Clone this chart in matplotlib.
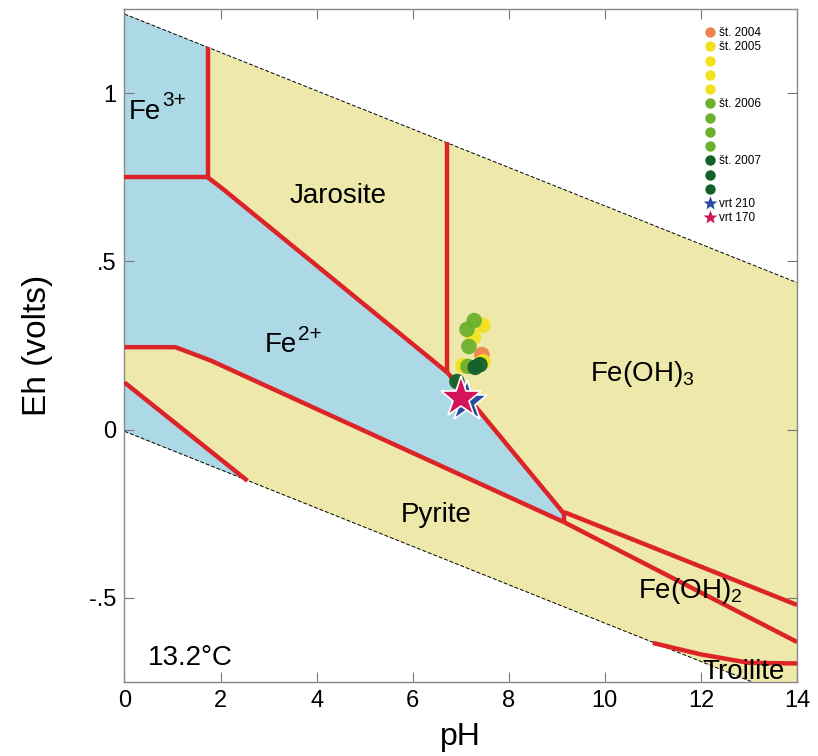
import matplotlib
matplotlib.use('Agg')
import matplotlib.pyplot as plt
from matplotlib.lines import Line2D

plt.rcParams['font.family'] = ['Liberation Sans', 'DejaVu Sans']
plt.rcParams['mathtext.fontset'] = 'custom'
plt.rcParams['mathtext.rm'] = 'Liberation Sans'
plt.rcParams['mathtext.it'] = 'Liberation Sans'

# Water stability limits (upper O2/H2O, lower H2O/H2)
ph_limits = [0, 14]
eh_upper = [1.235, 0.437]
eh_lower = [-0.005, -0.803]

# Stability field boundaries (pH, Eh)
fe3_fe2_ph = [0, 1.73]
fe3_fe2_eh = [0.75, 0.75]
fe3_jar_ph = [1.73, 1.73]
fe3_jar_eh = [1.137, 0.75]
jar_fe2_ph = [1.73, 2.05, 6.72]
jar_fe2_eh = [0.75, 0.715, 0.17]
jar_feoh3_ph = [6.72, 6.72]
jar_feoh3_eh = [0.855, 0.17]
fe2_feoh3_ph = [6.72, 9.15]
fe2_feoh3_eh = [0.17, -0.25]
tip_ph = [9.15, 9.15]
tip_eh = [-0.245, -0.275]
fe2_pyr_ph = [0, 1.06, 1.8, 9.15]
fe2_pyr_eh = [0.245, 0.245, 0.205, -0.275]
pyr_fe2_low_ph = [0, 2.56]
pyr_fe2_low_eh = [0.14, -0.152]
feoh3_feoh2_ph = [9.15, 14]
feoh3_feoh2_eh = [-0.245, -0.521]
pyr_feoh2_ph = [9.15, 14]
pyr_feoh2_eh = [-0.275, -0.631]
pyr_troi_ph = [11.0, 12.0, 13.0, 14.0]
pyr_troi_eh = [-0.634, -0.668, -0.693, -0.695]

# Sampling campaigns
years = ['št. 2004', 'št. 2005', 'št. 2006', 'št. 2007']
year_colors = ['#ee8450', '#f2e21e', '#6bb02e', '#14602a']
ph_2004 = [7.44]
eh_2004 = [0.223]
ph_2005 = [7.46, 7.26, 7.46, 7.05]
eh_2005 = [0.310, 0.274, 0.202, 0.190]
ph_2006 = [7.28, 7.13, 7.17, 7.15]
eh_2006 = [0.324, 0.298, 0.247, 0.188]
ph_2007 = [7.30, 7.40, 6.92]
eh_2007 = [0.185, 0.193, 0.143]

wells = ['vrt 210', 'vrt 170']
well_colors = ['#2b4aa0', '#d3145a']
well_ph = [7.14, 7.0]
well_eh = [0.083, 0.095]

blue = '#add8e6'
yellow = '#eee8aa'
red = '#dc2328'

fig = plt.figure(figsize=(8.18, 7.56), dpi=100)
ax = fig.add_axes([0.1522, 0.0979, 0.8221, 0.8902])

# fields
ax.fill_between(ph_limits, eh_lower, eh_upper, color=yellow, lw=0, zorder=0)
fe_poly_ph = [0, 1.73] + fe3_jar_ph + jar_fe2_ph[1:] + fe2_feoh3_ph[1:] + tip_ph[1:] + fe2_pyr_ph[::-1]
fe_poly_eh = [eh_upper[0], 1.137] + fe3_jar_eh + jar_fe2_eh[1:] + fe2_feoh3_eh[1:] + tip_eh[1:] + fe2_pyr_eh[::-1]
ax.fill(fe_poly_ph, fe_poly_eh, color=blue, lw=0, zorder=1)
ax.fill(pyr_fe2_low_ph + [0], pyr_fe2_low_eh + [eh_lower[0]], color=blue, lw=0, zorder=1)

ax.plot(ph_limits, eh_upper, 'k--', lw=0.7, dashes=(4, 2), zorder=2)
ax.plot(ph_limits, eh_lower, 'k--', lw=0.7, dashes=(4, 2), zorder=2)

for xs, ys in [(fe3_fe2_ph, fe3_fe2_eh), (fe3_jar_ph, fe3_jar_eh), (jar_fe2_ph, jar_fe2_eh),
               (jar_feoh3_ph, jar_feoh3_eh), (fe2_feoh3_ph, fe2_feoh3_eh), (tip_ph, tip_eh),
               (fe2_pyr_ph, fe2_pyr_eh), (pyr_fe2_low_ph, pyr_fe2_low_eh),
               (feoh3_feoh2_ph, feoh3_feoh2_eh), (pyr_feoh2_ph, pyr_feoh2_eh),
               (pyr_troi_ph, pyr_troi_eh)]:
    ax.plot(xs, ys, color=red, lw=3.2, solid_capstyle='butt', zorder=3)

# field labels
lab = dict(fontsize=20, zorder=4)
t = ax.text(0.08, 0.945, 'Fe', ha='left', va='center', **lab)
ax.annotate('3+', xy=(1, 0.55), xycoords=t, xytext=(1, 0), textcoords='offset points',
            va='bottom', fontsize=15, zorder=4)
t = ax.text(3.25, 0.25, 'Fe', ha='center', va='center', **lab)
ax.annotate('2+', xy=(1, 0.55), xycoords=t, xytext=(1, 0), textcoords='offset points',
            va='bottom', fontsize=15, zorder=4)
ax.text(4.45, 0.693, 'Jarosite', ha='center', va='center', **lab)
ax.text(10.78, 0.165, r'$\mathregular{Fe(OH)_3}$', ha='center', va='center', **lab)
ax.text(6.49, -0.253, 'Pyrite', ha='center', va='center', **lab)
ax.text(11.77, -0.48, r'$\mathregular{Fe(OH)_2}$', ha='center', va='center', **lab)
ax.text(12.88, -0.72, 'Troilite', ha='center', va='center', **lab)
ax.text(1.37, -0.678, '13.2°C', ha='center', va='center', **lab)

# samples
ms = 125
for ph, eh, c in [(ph_2004, eh_2004, year_colors[0]), (ph_2005, eh_2005, year_colors[1]),
                  (ph_2006, eh_2006, year_colors[2]), (ph_2007, eh_2007, year_colors[3])]:
    ax.scatter(ph, eh, s=ms, color=c, edgecolors='none', alpha=0.95, zorder=5)
for i in range(2):
    ax.plot(well_ph[i], well_eh[i], marker='*', ms=31, color=well_colors[i],
            mec='white', mew=1.2, zorder=6)

# legend with one entry per sample
handles = []
labels = []
counts = [len(ph_2004), len(ph_2005), len(ph_2006), len(ph_2007)]
for name, c, n in zip(years, year_colors, counts):
    for k in range(n):
        handles.append(Line2D([], [], ls='none', marker='o', ms=7.5, color=c, mec='none'))
        labels.append(name if k == 0 else '')
for name, c in zip(wells, well_colors):
    handles.append(Line2D([], [], ls='none', marker='*', ms=10, color=c, mec='none'))
    labels.append(name)
ax.legend(handles, labels, loc='upper left', bbox_to_anchor=(0.862, 0.964), bbox_transform=fig.transFigure,
          frameon=False, fontsize=8.5, handlelength=0.8, handletextpad=0.4, labelspacing=0.19,
          borderpad=0, borderaxespad=0)

ax.set_xlim(0, 14)
ax.set_ylim(-0.75, 1.25)
ax.set_xticks(range(0, 15, 2))
ax.set_yticks([-0.5, 0, 0.5, 1])
ax.set_yticklabels(['-.5', '0', '.5', '1'])
ax.tick_params(direction='in', length=7, width=0.8, color='#777777', labelsize=17,
               top=True, right=True, pad=6)
for s in ax.spines.values():
    s.set_color('#888888')
    s.set_linewidth(1.0)

ax.set_xlabel('pH', fontsize=23, labelpad=7)
ax.set_ylabel('Eh (volts)', fontsize=24, labelpad=26)

fig.savefig('out.png', dpi=100)
